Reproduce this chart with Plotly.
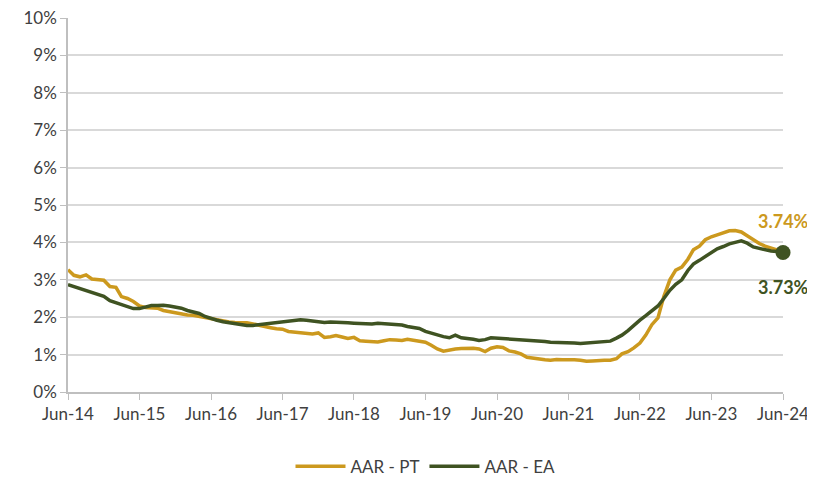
import pandas as pd
import plotly.graph_objects as go

# monthly dates Jun-14 .. Jun-24
dates = pd.date_range("2014-06-01", "2024-06-01", freq="MS")

aar_pt = [
    3.27, 3.12, 3.08, 3.13, 3.02, 3.00, 2.99, 2.82, 2.80, 2.55,
    2.50, 2.42, 2.30, 2.26, 2.25, 2.24, 2.18, 2.15, 2.12, 2.08,
    2.06, 2.05, 2.02, 1.98, 1.94, 1.92, 1.90, 1.87, 1.86, 1.86,
    1.85, 1.82, 1.78, 1.76, 1.72, 1.69, 1.68, 1.62, 1.60, 1.58,
    1.56, 1.55, 1.58, 1.46, 1.48, 1.51, 1.47, 1.43, 1.46, 1.37,
    1.36, 1.35, 1.34, 1.37, 1.40, 1.39, 1.38, 1.41, 1.38, 1.34,
    1.33, 1.25, 1.15, 1.09, 1.13, 1.15, 1.16, 1.17, 1.17, 1.15,
    1.08, 1.17, 1.21, 1.19, 1.10, 1.07, 1.02, 0.93, 0.90, 0.87,
    0.86, 0.85, 0.87, 0.86, 0.87, 0.86, 0.85, 0.82, 0.83, 0.85,
    0.85, 0.85, 0.89, 1.02, 1.08, 1.18, 1.31, 1.52, 1.80, 1.98,
    2.55, 3.00, 3.26, 3.34, 3.55, 3.80, 3.90, 4.07, 4.15, 4.20,
    4.25, 4.31, 4.32, 4.28, 4.18, 4.07, 3.97, 3.90, 3.86, 3.80,
    3.74,
]

aar_ea = [
    2.87, 2.82, 2.76, 2.71, 2.66, 2.61, 2.56, 2.44, 2.38, 2.33,
    2.27, 2.23, 2.23, 2.28, 2.31, 2.31, 2.32, 2.30, 2.28, 2.24,
    2.18, 2.14, 2.10, 2.02, 1.96, 1.92, 1.88, 1.85, 1.82, 1.80,
    1.78, 1.78, 1.80, 1.82, 1.84, 1.86, 1.87, 1.89, 1.92, 1.93,
    1.92, 1.90, 1.87, 1.86, 1.87, 1.87, 1.86, 1.85, 1.84, 1.83,
    1.82, 1.82, 1.84, 1.83, 1.81, 1.80, 1.79, 1.75, 1.72, 1.70,
    1.62, 1.57, 1.52, 1.48, 1.45, 1.52, 1.45, 1.44, 1.41, 1.38,
    1.40, 1.45, 1.44, 1.43, 1.42, 1.42, 1.41, 1.39, 1.37, 1.36,
    1.35, 1.33, 1.33, 1.32, 1.31, 1.31, 1.30, 1.31, 1.31, 1.32,
    1.33, 1.36, 1.44, 1.52, 1.64, 1.79, 1.92, 2.04, 2.16, 2.30,
    2.50, 2.72, 2.88, 3.00, 3.25, 3.42, 3.52, 3.62, 3.74, 3.83,
    3.89, 3.96, 4.00, 4.04, 3.98, 3.88, 3.84, 3.80, 3.77, 3.76,
    3.73,
]

tick_dates = pd.date_range("2014-06-01", "2024-06-01", freq="12MS")
tick_labels = ["Jun-14", "Jun-15", "Jun-16", "Jun-17", "Jun-18", "Jun-19",
               "Jun-20", "Jun-21", "Jun-22", "Jun-23", "Jun-24"]

gold = "#CC991E"
green = "#3F5322"
font = "Lato, Open Sans, sans-serif"

fig = go.Figure()

fig.add_trace(go.Scatter(
    x=dates, y=aar_pt,
    mode="lines",
    line=dict(color=gold, width=3.5),
    name="AAR - PT"
))

fig.add_trace(go.Scatter(
    x=dates, y=aar_ea,
    mode="lines",
    line=dict(color=green, width=3.5),
    name="AAR - EA"
))

# end-point marker on EA
fig.add_trace(go.Scatter(
    x=[dates[-1]], y=[aar_ea[-1]],
    mode="markers",
    marker=dict(color=green, size=15),
    cliponaxis=False,
    showlegend=False, hoverinfo="skip"
))

fig.add_annotation(x=dates[-1], y=aar_pt[-1], text="<b>3.74%</b>",
                   showarrow=False, yshift=31, xshift=0,
                   font=dict(color=gold, size=18, family=font))
fig.add_annotation(x=dates[-1], y=aar_ea[-1], text="<b>3.73%</b>",
                   showarrow=False, yshift=-34, xshift=0,
                   font=dict(color=green, size=18, family=font))

# page body has an 8px margin, so the figure is sized/offset to fit the window
fig.update_layout(
    width=807, height=469,
    margin=dict(l=60, r=32, t=10, b=85, autoexpand=False),
    plot_bgcolor="white", paper_bgcolor="white",
    font=dict(family=font, size=17, color="#404040"),
    xaxis=dict(
        range=[dates[0], dates[-1]],
        tickvals=tick_dates, ticktext=tick_labels,
        showgrid=False,
        showline=True, linecolor="#BFBFBF", linewidth=1.5,
        ticks="outside", ticklen=6, tickcolor="#BFBFBF",
        ticklabeloverflow="allow",
        tickfont=dict(size=17, color="#404040"),
    ),
    yaxis=dict(
        range=[0, 10],
        tickvals=list(range(0, 11)),
        ticktext=[f"{i}%" for i in range(0, 11)],
        showgrid=True, gridcolor="#D9D9D9", gridwidth=1.5,
        showline=True, linecolor="#BFBFBF", linewidth=1.5,
        ticks="outside", ticklen=6, tickcolor="#BFBFBF",
        ticklabeloverflow="allow",
        zeroline=False,
        tickfont=dict(size=17, color="#404040"),
    ),
    legend=dict(
        orientation="h",
        x=0.5, xanchor="center",
        y=-0.2, yanchor="middle",
        itemwidth=50,
        font=dict(size=17, color="#404040"),
    ),
)

fig.write_html("out.html")
